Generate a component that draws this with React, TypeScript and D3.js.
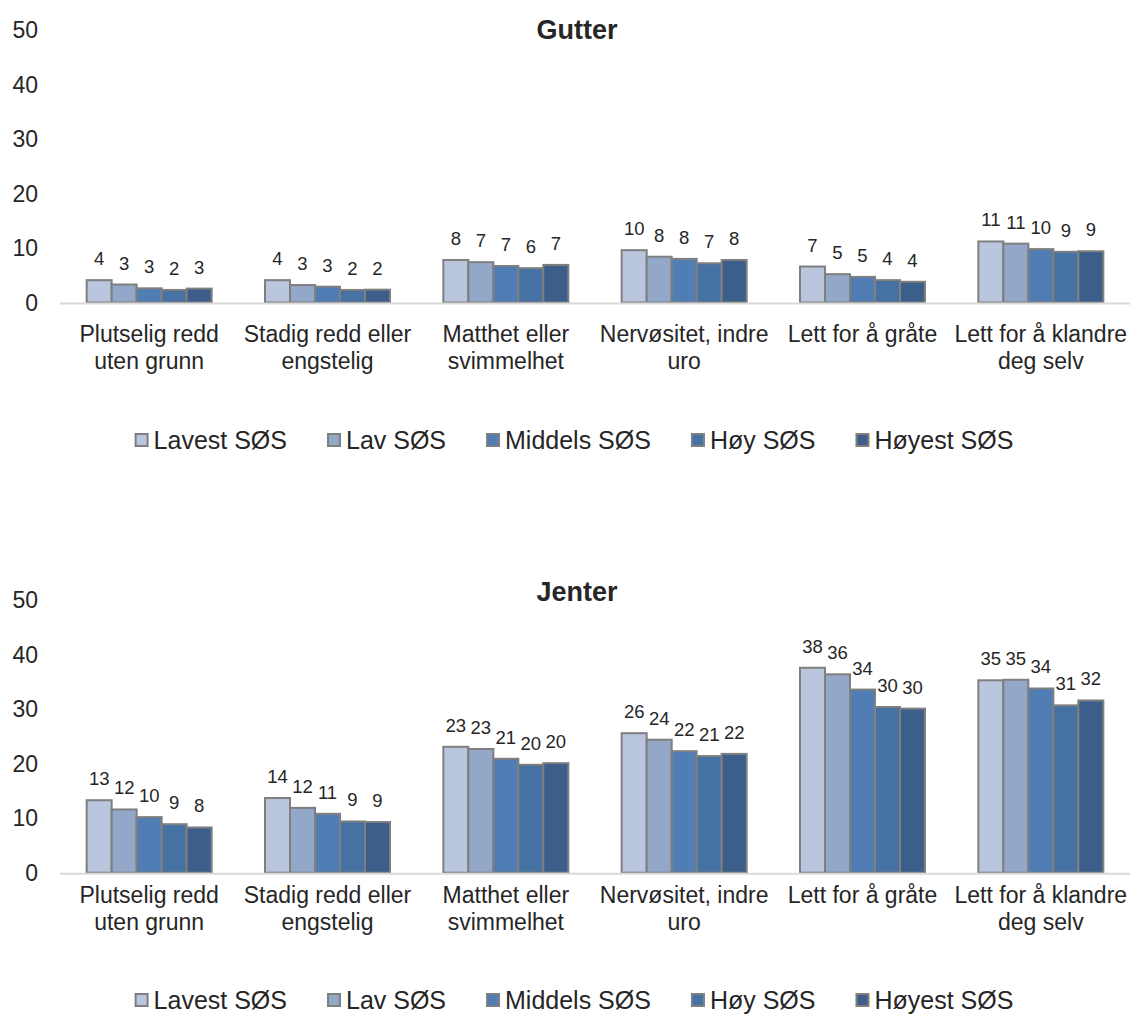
import React from "react";
import * as d3 from "d3";

const categories: string[][] = [
  ["Plutselig redd", "uten grunn"],
  ["Stadig redd eller", "engstelig"],
  ["Matthet eller", "svimmelhet"],
  ["Nervøsitet, indre", "uro"],
  ["Lett for å gråte"],
  ["Lett for å klandre", "deg selv"],
];
const seriesNames = ["Lavest SØS", "Lav SØS", "Middels SØS", "Høy SØS", "Høyest SØS"];
const seriesColors = ["#B9C6DE", "#93A7C9", "#4F7DB4", "#4671A3", "#3B5E8B"];

// values per category, series order Lavest..Høyest
const gutter: number[][] = [
  [4.1, 3.3, 2.6, 2.3, 2.55],
  [4.1, 3.2, 2.9, 2.3, 2.35],
  [7.8, 7.4, 6.7, 6.3, 6.9],
  [9.6, 8.4, 8.0, 7.2, 7.8],
  [6.6, 5.2, 4.7, 4.1, 3.8],
  [11.2, 10.8, 9.8, 9.3, 9.4],
];
const jenter: number[][] = [
  [13.3, 11.6, 10.2, 8.9, 8.3],
  [13.7, 11.9, 10.8, 9.4, 9.3],
  [23.1, 22.7, 20.9, 19.8, 20.1],
  [25.6, 24.4, 22.3, 21.4, 21.8],
  [37.6, 36.4, 33.6, 30.4, 30.1],
  [35.3, 35.4, 33.8, 30.7, 31.6],
];
const yTicks = [0, 10, 20, 30, 40, 50];

const W = 1135;
const H = 1016;
const FONT = "'Liberation Sans', Arial, sans-serif";
const TEXT = "#262626";

function measure(text: string, size: number): number {
  if (typeof document === "undefined") return text.length * size * 0.55;
  const c = document.createElement("canvas").getContext("2d");
  if (!c) return text.length * size * 0.55;
  c.font = `${size}px 'Liberation Sans', Arial, sans-serif`;
  return c.measureText(text).width;
}

type PanelProps = {
  title: string;
  data: number[][];
  base: number;
  titleY: number;
  catOffset: number;
  legY: number;
};

function Panel({ title, data, base, titleY, catOffset, legY }: PanelProps) {
  const y = d3.scaleLinear().domain([0, 50]).range([base, base - 272.5]);
  const x = d3
    .scaleBand<number>()
    .domain(categories.map((_, i) => i))
    .range([60, 1130])
    .paddingInner(0)
    .paddingOuter(0);
  const groupW = 125;
  const xs = d3
    .scaleBand<number>()
    .domain(seriesNames.map((_, i) => i))
    .range([0, groupW])
    .padding(0);

  // legend layout
  const legSize = 25;
  const mk = 14;
  const gapMk = 5;
  const gapItem = 40;
  const widths = seriesNames.map((s) => mk + gapMk + measure(s, legSize));
  const totalW = d3.sum(widths) + gapItem * (seriesNames.length - 1);
  const legStart = 574 - totalW / 2;
  const legX: number[] = [];
  let acc = legStart;
  widths.forEach((w) => {
    legX.push(acc);
    acc += w + gapItem;
  });

  return (
    <g>
      <text
        x={577}
        y={titleY}
        dy="0.35em"
        textAnchor="middle"
        fontFamily={FONT}
        fontWeight="bold"
        fontSize={27}
        fill={TEXT}
      >
        {title}
      </text>
      {yTicks.map((t) => (
        <text
          key={t}
          x={38}
          y={y(t)}
          dy="0.35em"
          textAnchor="end"
          fontFamily={FONT}
          fontSize={23}
          fill={TEXT}
        >
          {t}
        </text>
      ))}
      {data.map((vals, ci) => {
        const cx = (x(ci) as number) + x.bandwidth() / 2;
        const gx = cx - groupW / 2;
        return (
          <g key={ci}>
            {vals.map((v, si) => (
              <rect
                key={si}
                x={gx + (xs(si) as number)}
                y={y(v)}
                width={xs.bandwidth()}
                height={base - y(v)}
                fill={seriesColors[si]}
                stroke="#7F7F7F"
                strokeWidth={2}
              />
            ))}
            {vals.map((v, si) => (
              <text
                key={"l" + si}
                x={gx + (xs(si) as number) + xs.bandwidth() / 2}
                y={y(v) - 15}
                textAnchor="middle"
                fontFamily={FONT}
                fontSize={18.5}
                fill={TEXT}
              >
                {Math.round(v)}
              </text>
            ))}
            {categories[ci].map((line, li) => (
              <text
                key={"c" + li}
                x={cx}
                y={base + catOffset + li * 27}
                dy="0.35em"
                textAnchor="middle"
                fontFamily={FONT}
                fontSize={23}
                fill={TEXT}
              >
                {line}
              </text>
            ))}
          </g>
        );
      })}
      <line x1={60} x2={1130} y1={base + 1} y2={base + 1} stroke="#D9D9D9" strokeWidth={2} />
      {seriesNames.map((s, si) => (
        <g key={s}>
          <rect
            x={legX[si] + 1}
            y={legY - mk / 2 + 1}
            width={mk - 2}
            height={mk - 2}
            fill={seriesColors[si]}
            stroke="#7F7F7F"
            strokeWidth={2}
          />
          <text
            x={legX[si] + mk + gapMk}
            y={legY}
            dy="0.35em"
            fontFamily={FONT}
            fontSize={legSize}
            fill={TEXT}
          >
            {s}
          </text>
        </g>
      ))}
    </g>
  );
}

export default function App() {
  return (
    <svg
      width={W}
      height={H}
      viewBox={`0 0 ${W} ${H}`}
      style={{ position: "absolute", left: 0, top: 0, background: "#fff" }}
    >
      <rect x={0} y={0} width={W} height={H} fill="#fff" />
      <Panel title="Gutter" data={gutter} base={302.5} titleY={30} catOffset={31} legY={440} />
      <Panel title="Jenter" data={jenter} base={872.7} titleY={592} catOffset={22} legY={1000} />
    </svg>
  );
}
